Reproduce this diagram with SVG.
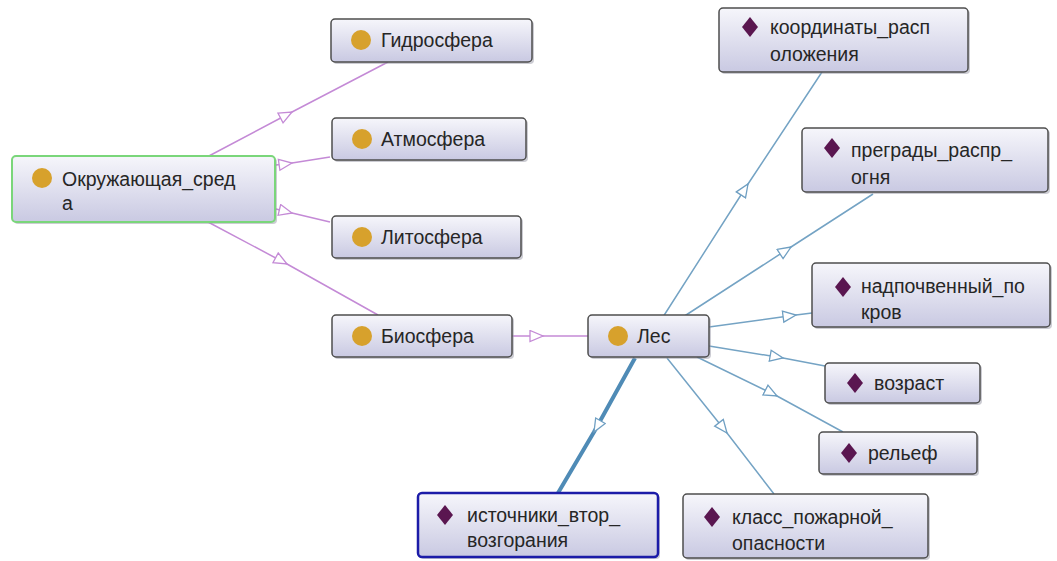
<svg xmlns="http://www.w3.org/2000/svg" width="1057" height="561" viewBox="0 0 1057 561">
<defs>
<linearGradient id="nodeFill" x1="0" y1="0" x2="0" y2="1">
<stop offset="0" stop-color="#f6f6fb"/>
<stop offset="1" stop-color="#c9c9e2"/>
</linearGradient>
<marker id="triP" markerUnits="userSpaceOnUse" markerWidth="16" markerHeight="14" refX="14" refY="6.5" orient="auto" viewBox="0 0 16 14">
<path d="M1,1 L14,6.5 L1,12 Z" fill="#ffffff" stroke="#c48ad6" stroke-width="1.3"/>
</marker>
<marker id="triB" markerUnits="userSpaceOnUse" markerWidth="16" markerHeight="14" refX="14" refY="6.5" orient="auto" viewBox="0 0 16 14">
<path d="M1,1 L14,6.5 L1,12 Z" fill="#ffffff" stroke="#6f9fc2" stroke-width="1.3"/>
</marker>
</defs>
<style>
.edgeP{fill:none;stroke:#c48ad6;stroke-width:1.5;marker-mid:url(#triP)}
.edgeB{fill:none;stroke:#74a3c4;stroke-width:1.5;marker-mid:url(#triB)}
.edgeBT{fill:none;stroke:#4f8bb6;stroke-width:4;marker-mid:url(#triB)}
.box{fill:url(#nodeFill);stroke:#4d4d4d;stroke-width:1.5}
.shadow{fill:#9a9aa8;opacity:0.5}
.boxG{fill:url(#nodeFill);stroke:#7ad67a;stroke-width:2}
.boxS{fill:url(#nodeFill);stroke:#1c1ca8;stroke-width:2.5}
.cls{fill:#d7a12c}
.prop{fill:#5a1650}
.lbl{font-family:"Liberation Sans",Arial,sans-serif;font-size:19.5px;fill:#262626}
</style>
<rect width="1057" height="561" fill="#ffffff"/>
<g id="connectors">
<path class="edgeP" d="M207,157 L292,112 L388,62"/>
<path class="edgeP" d="M276,165 L292,163 L330,157"/>
<path class="edgeP" d="M276,209 L292,213 L330,222"/>
<path class="edgeP" d="M208,222 L287,264 L378,315"/>
<path class="edgeP" d="M512,336 L543,336 L588,336"/>
<path class="edgeB" d="M663,317 L748,184 L822,72"/>
<path class="edgeB" d="M683,317 L791,247 L873,194"/>
<path class="edgeB" d="M709,327 L796,315 L812,313"/>
<path class="edgeB" d="M709,346 L783,358 L825,366"/>
<path class="edgeB" d="M697,357 L777,396 L843,432"/>
<path class="edgeB" d="M667,358 L727,433 L774,494"/>
<path class="edgeBT" d="M635,358 L594,432 L558,493"/>
</g>
<g id="node-gidrosfera">
<rect class="shadow" x="333" y="21" width="201" height="43" rx="4"/>
<rect class="box" x="331" y="19" width="201" height="43" rx="4"/>
<circle class="cls" cx="361" cy="40" r="10"/>
<text class="lbl" x="381" y="47">Гидросфера</text>
</g>
<g id="node-atmosfera">
<rect class="shadow" x="334" y="120" width="194" height="42" rx="4"/>
<rect class="box" x="332" y="118" width="194" height="42" rx="4"/>
<circle class="cls" cx="362" cy="139" r="10"/>
<text class="lbl" x="381" y="146">Атмосфера</text>
</g>
<g id="node-okruzh">
<rect class="shadow" x="14" y="158" width="263" height="66" rx="4"/>
<rect class="boxG" x="12" y="156" width="263" height="66" rx="4"/>
<circle class="cls" cx="42" cy="178" r="10"/>
<text class="lbl" x="62" y="186">Окружающая_сред</text>
<text class="lbl" x="62" y="210">а</text>
</g>
<g id="node-litosfera">
<rect class="shadow" x="334" y="218" width="189" height="42" rx="4"/>
<rect class="box" x="332" y="216" width="189" height="42" rx="4"/>
<circle class="cls" cx="362" cy="237" r="10"/>
<text class="lbl" x="381" y="244">Литосфера</text>
</g>
<g id="node-biosfera">
<rect class="shadow" x="334" y="317" width="180" height="42" rx="4"/>
<rect class="box" x="332" y="315" width="180" height="42" rx="4"/>
<circle class="cls" cx="362" cy="336" r="10"/>
<text class="lbl" x="381" y="343">Биосфера</text>
</g>
<g id="node-les">
<rect class="shadow" x="590" y="317" width="121" height="42" rx="4"/>
<rect class="box" x="588" y="315" width="121" height="42" rx="4"/>
<circle class="cls" cx="618" cy="336" r="10"/>
<text class="lbl" x="637" y="343">Лес</text>
</g>
<g id="node-koord">
<rect class="shadow" x="721" y="10" width="249" height="64" rx="4"/>
<rect class="box" x="719" y="8" width="249" height="64" rx="4"/>
<path class="prop" d="M750,17 L758,27 L750,37 L742,27 Z"/>
<text class="lbl" x="770" y="34">координаты_расп</text>
<text class="lbl" x="770" y="61">оложения</text>
</g>
<g id="node-pregrady">
<rect class="shadow" x="804" y="130" width="246" height="64" rx="4"/>
<rect class="box" x="802" y="128" width="246" height="64" rx="4"/>
<path class="prop" d="M832,138 L840,148 L832,158 L824,148 Z"/>
<text class="lbl" x="851" y="157">преграды_распр_</text>
<text class="lbl" x="851" y="184">огня</text>
</g>
<g id="node-nadpochv">
<rect class="shadow" x="814" y="265" width="238" height="64" rx="4"/>
<rect class="box" x="812" y="263" width="238" height="64" rx="4"/>
<path class="prop" d="M843,277 L851,287 L843,297 L835,287 Z"/>
<text class="lbl" x="861" y="293">надпочвенный_по</text>
<text class="lbl" x="861" y="319">кров</text>
</g>
<g id="node-vozrast">
<rect class="shadow" x="827" y="365" width="155" height="40" rx="4"/>
<rect class="box" x="825" y="363" width="155" height="40" rx="4"/>
<path class="prop" d="M855,373 L863,383 L855,393 L847,383 Z"/>
<text class="lbl" x="874" y="390">возраст</text>
</g>
<g id="node-relef">
<rect class="shadow" x="821" y="434" width="158" height="42" rx="4"/>
<rect class="box" x="819" y="432" width="158" height="42" rx="4"/>
<path class="prop" d="M849,443 L857,453 L849,463 L841,453 Z"/>
<text class="lbl" x="868" y="460">рельеф</text>
</g>
<g id="node-klass">
<rect class="shadow" x="685" y="496" width="245" height="64" rx="4"/>
<rect class="box" x="683" y="494" width="245" height="64" rx="4"/>
<path class="prop" d="M712,507 L720,517 L712,527 L704,517 Z"/>
<text class="lbl" x="732" y="524">класс_пожарной_</text>
<text class="lbl" x="732" y="550">опасности</text>
</g>
<g id="node-istochniki">
<rect class="shadow" x="420" y="495" width="240" height="64" rx="4"/>
<rect class="boxS" x="418" y="493" width="240" height="64" rx="4"/>
<path class="prop" d="M445,505 L453,515 L445,525 L437,515 Z"/>
<text class="lbl" x="467" y="522">источники_втор_</text>
<text class="lbl" x="467" y="547">возгорания</text>
</g>
</svg>
